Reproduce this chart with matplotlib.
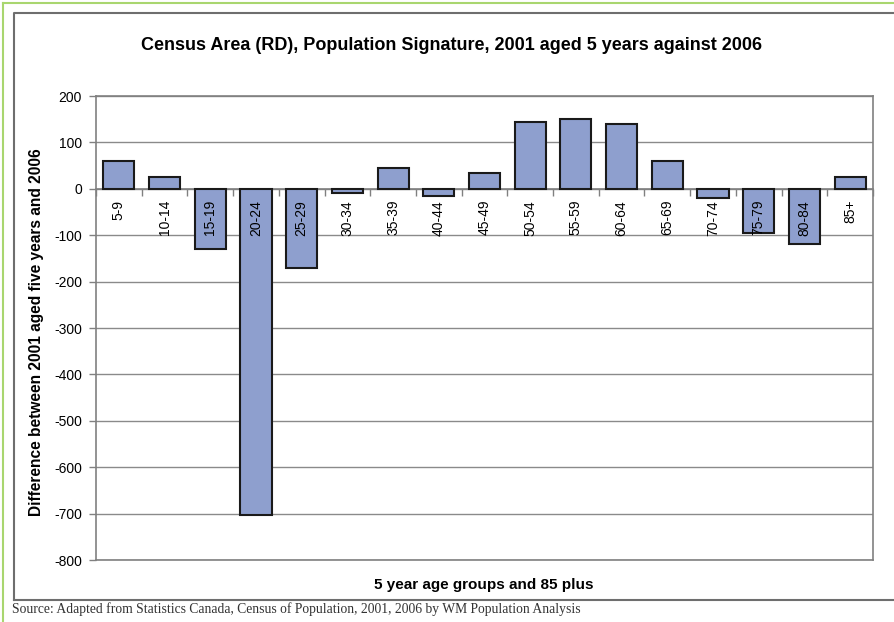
import numpy as np
import matplotlib.pyplot as plt
from matplotlib.lines import Line2D

plt.rcParams['font.family'] = ['Liberation Sans', 'DejaVu Sans']

age_groups = ['5-9', '10-14', '15-19', '20-24', '25-29', '30-34', '35-39',
              '40-44', '45-49', '50-54', '55-59', '60-64', '65-69', '70-74',
              '75-79', '80-84', '85+']
difference = [60, 25, -130, -703, -170, -10, 45, -15, 35, 145, 150, 140,
              60, -20, -95, -120, 25]
y_ticks = [200, 100, 0, -100, -200, -300, -400, -500, -600, -700, -800]

W, H = 895, 622
fig = plt.figure(figsize=(W / 100, H / 100), dpi=100)
fig.patch.set_facecolor('white')

# outer green rule and grey chart frame
fig.add_artist(Line2D([3 / W, 3 / W], [0, 1 - 2.5 / H], color='#a9d66f', lw=1.5))
fig.add_artist(Line2D([3 / W, 1], [1 - 2.5 / H, 1 - 2.5 / H], color='#a9d66f', lw=1.5))
fig.add_artist(Line2D([14 / W, 14 / W, 1], [1 - 600 / H, 1 - 13 / H, 1 - 13 / H],
                      color='#6e6e6e', lw=1.5))
fig.add_artist(Line2D([14 / W, 1], [1 - 600 / H, 1 - 600 / H], color='#6e6e6e', lw=1.5))

ax = fig.add_axes([96 / W, 1 - 560 / H, (873 - 96) / W, (560 - 96) / H])
x = np.arange(len(age_groups))
ax.bar(x, difference, width=0.68, color='#8e9fce', edgecolor='#1a1a1a',
       linewidth=1.5, zorder=3)

ax.set_xlim(-0.5, len(age_groups) - 0.5)
ax.set_ylim(-800, 200)
ax.set_yticks(y_ticks)
ax.set_yticklabels([str(v) for v in y_ticks], fontsize=10)
ax.yaxis.grid(True, color='#8a8a8a', lw=1, zorder=0)
ax.set_axisbelow(True)
ax.axhline(-800, color='#808080', lw=1.2, clip_on=False, zorder=1)

for s in ['left', 'top', 'right']:
    ax.spines[s].set_color('#808080')
    ax.spines[s].set_linewidth(1.2)
ax.spines['bottom'].set_position(('data', 0))
ax.spines['bottom'].set_color('#808080')
ax.spines['bottom'].set_linewidth(1.2)
ax.spines['bottom'].set_zorder(2)

ax.tick_params(axis='y', length=5, width=1, color='#808080', pad=5)
ax.set_xticks(np.arange(len(age_groups) + 1) - 0.5)
ax.set_xticklabels([])
ax.tick_params(axis='x', direction='out', length=5, width=1, color='#808080')

for xi, lab in zip(x, age_groups):
    ax.annotate(lab, (xi, 0), xytext=(0, -8), textcoords='offset points',
                rotation=90, ha='center', va='top', fontsize=10, zorder=5)

fig.text(452 / W, 1 - 45 / H,
         'Census Area (RD), Population Signature, 2001 aged 5 years against 2006',
         ha='center', va='center', fontsize=13, fontweight='bold')
fig.text(37 / W, 1 - 332 / H, 'Difference between 2001 aged five years and 2006',
         rotation=90, ha='center', va='center', fontsize=11.2, fontweight='bold')
fig.text(484 / W, 1 - 585 / H, '5 year age groups and 85 plus',
         ha='center', va='center', fontsize=11, fontweight='bold')
fig.text(12 / W, 1 - 609 / H,
         'Source: Adapted from Statistics Canada, Census of Population, 2001, 2006 by WM Population Analysis',
         ha='left', va='center', fontsize=9.8, family='Liberation Serif', color='#333333')

fig.savefig('out.png', dpi=100)
